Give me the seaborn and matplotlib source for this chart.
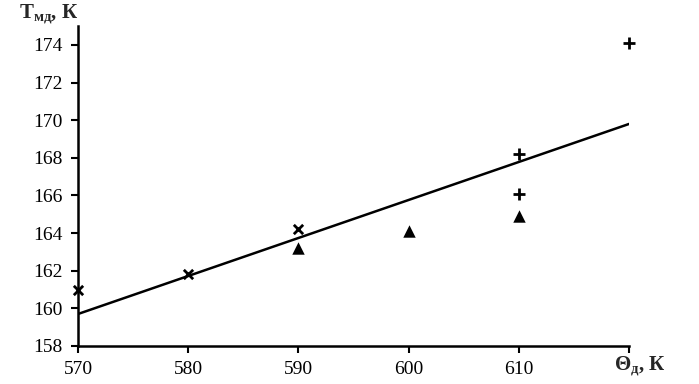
import numpy as np
import pandas as pd
import matplotlib
matplotlib.use('Agg')
import matplotlib.pyplot as plt
import seaborn as sns

# Debye temperature (x) vs. melting-related temperature (y), three groups
X_CROSS = [570, 580, 590]
Y_CROSS = [161.0, 161.8, 164.2]
X_TRI = [590, 600, 610]
Y_TRI = [163.2, 164.1, 164.9]
X_PLUS = [610, 610, 620]
Y_PLUS = [168.2, 166.1, 174.1]

# trend line ends
LINE_X = [570, 620]
LINE_Y = [159.7, 169.8]

X_TICKS = [570, 580, 590, 600, 610, 620]
X_TICK_LABELS = ["570", "580", "590", "600", "610", ""]
Y_TICKS = [158, 160, 162, 164, 166, 168, 170, 172, 174]

sns.set_style("ticks")
plt.rcParams['font.family'] = ['Liberation Serif', 'DejaVu Serif']
plt.rcParams['mathtext.fontset'] = 'custom'
plt.rcParams['mathtext.rm'] = 'Liberation Serif'
plt.rcParams['mathtext.bf'] = 'Liberation Serif:bold'

df = pd.DataFrame({
    "x": X_CROSS + X_TRI + X_PLUS,
    "y": Y_CROSS + Y_TRI + Y_PLUS,
    "group": ["cross"] * len(X_CROSS) + ["tri"] * len(X_TRI) + ["plus"] * len(X_PLUS),
})

fig = plt.figure(figsize=(6.99, 3.84), dpi=100)
ax = fig.add_axes([0.1116, 0.099, 0.7883, 0.833])

sns.lineplot(x=LINE_X, y=LINE_Y, ax=ax, color='black', linewidth=1.8)

sns.scatterplot(data=df[df.group == "cross"], x="x", y="y", ax=ax, marker='x',
                color='black', s=45, linewidth=2.0, legend=False, clip_on=False,
                zorder=3)
sns.scatterplot(data=df[df.group == "plus"], x="x", y="y", ax=ax, marker='+',
                color='black', s=70, linewidth=2.0, legend=False, clip_on=False,
                zorder=3)
sns.scatterplot(data=df[df.group == "tri"], x="x", y="y", ax=ax, marker='^',
                color='black', s=80, linewidth=0, legend=False, clip_on=False,
                zorder=3)

ax.set_xlim(570, 620)
ax.set_ylim(158, 175)
ax.set_xticks(X_TICKS)
ax.set_xticklabels(X_TICK_LABELS)
ax.set_yticks(Y_TICKS)
ax.tick_params(axis='both', direction='out', length=5, width=1.5, colors='black',
               labelsize=14, pad=6)
ax.set_xlabel("")
ax.set_ylabel("")
for s in ['left', 'bottom']:
    ax.spines[s].set_linewidth(1.8)
    ax.spines[s].set_color('black')
sns.despine(ax=ax)

fig.text(0.027, 0.962, r"$\mathbf{Т_{мд}}$" + ", К", fontsize=15, fontweight='bold',
         ha='left', va='center')
fig.text(0.878, 0.045, r"$\mathbf{Θ_{д}}$" + ", К", fontsize=15, fontweight='bold',
         ha='left', va='center')

fig.savefig("out.png", dpi=100)
